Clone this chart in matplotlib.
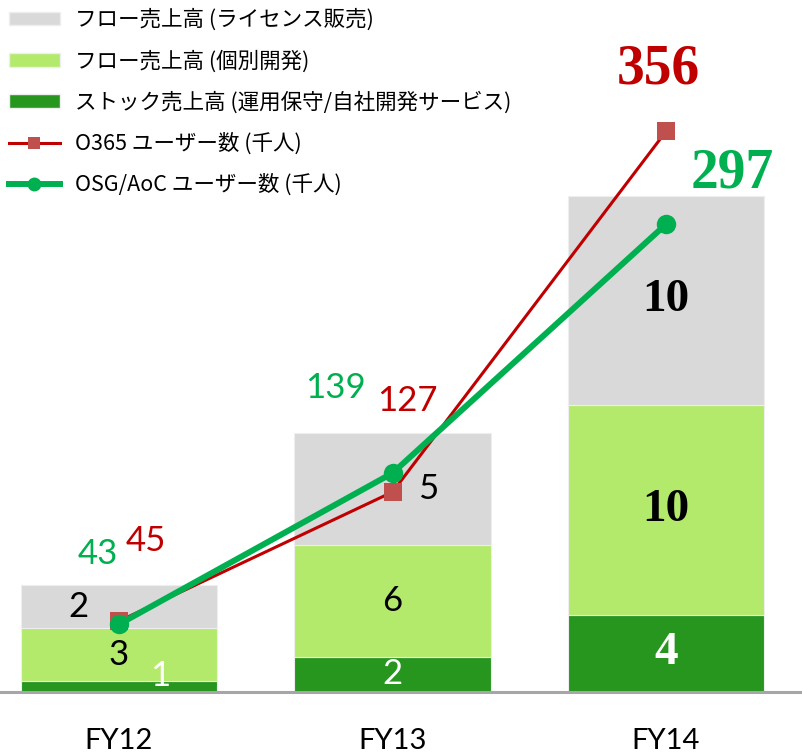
import matplotlib
matplotlib.use("Agg")
from matplotlib import pyplot as plt
from matplotlib.patches import Patch
from matplotlib.lines import Line2D
import numpy as np

# データ
years = ["FY12", "FY13", "FY14"]
flow_license = [2.05, 5.33, 9.95]   # フロー売上高 (ライセンス販売)
flow_dev = [2.52, 5.33, 10.0]       # フロー売上高 (個別開発)
stock = [0.52, 1.67, 3.67]          # ストック売上高
license_labels = ["2", "5", "10"]
dev_labels = ["3", "6", "10"]
stock_labels = ["1", "2", "4"]
o365_users = [45, 127, 356]
osg_users = [43, 139, 297]

c_lic = "#D9D9D9"
c_dev = "#B3EA6B"
c_stock = "#26961F"
c_red = "#C00000"
c_red_mk = "#C0504D"
c_green = "#00B050"

plt.rcParams['font.family'] = ['Noto Sans CJK JP', 'DejaVu Sans']
thin = "Lato"
serif = "Liberation Serif"

fig = plt.figure(figsize=(8.02, 7.53), dpi=100)
ax = fig.add_axes([0, 61 / 753, 1, 692 / 753])
x = np.arange(len(years))
w = 0.717

ax.bar(x, stock, w, color=c_stock, edgecolor="#EEEEEE", linewidth=0.8)
ax.bar(x, flow_dev, w, bottom=stock, color=c_dev, edgecolor="#EEEEEE", linewidth=0.8)
bottom2 = np.array(stock) + np.array(flow_dev)
ax.bar(x, flow_license, w, bottom=bottom2, color=c_lic, edgecolor="#EEEEEE", linewidth=0.8)

ax.set_xlim(-0.435, 2.497)
ax.set_ylim(0, 692 / 21)
ax.set_yticks([])
for s in ["top", "left", "right"]:
    ax.spines[s].set_visible(False)
ax.spines["bottom"].set_color("#A6A6A6")
ax.spines["bottom"].set_linewidth(2.2)
ax.set_xticks(x)
ax.set_xticklabels(years, fontsize=21, family=thin)
ax.tick_params(axis="x", length=0, pad=26)

# 棒ラベル
dx_lic = [-0.15, 0.13, 0]
dx_stock = [0.15, 0, 0]
for i in range(len(years)):
    serif_bar = (i == 2)
    fam = serif if serif_bar else thin
    fw = "bold" if serif_bar else "normal"
    fs = 34 if serif_bar else 25
    ax.text(x[i] + dx_stock[i], stock[i] / 2 + (0.5 if i == 0 else 0), stock_labels[i],
            ha="center", va="center", color="white", fontsize=fs, family=fam, fontweight=fw, zorder=5)
    ax.text(x[i], stock[i] + flow_dev[i] / 2, dev_labels[i],
            ha="center", va="center", color="black", fontsize=fs, family=fam, fontweight=fw, zorder=5)
    ax.text(x[i] + dx_lic[i], bottom2[i] + flow_license[i] / 2, license_labels[i],
            ha="center", va="center", color="black", fontsize=fs, family=fam, fontweight=fw, zorder=5)

ax2 = ax.twinx()
ax2.set_ylim(0, 692 / 1.575)
ax2.set_yticks([])
for s in ax2.spines.values():
    s.set_visible(False)

ax2.plot(x, o365_users, color=c_red, lw=2.2, marker="s", markersize=13,
         markerfacecolor=c_red_mk, markeredgewidth=0, zorder=3)
ax2.plot(x, osg_users, color=c_green, lw=4.3, marker="o", markersize=14,
         markerfacecolor=c_green, markeredgewidth=0, zorder=4)

# 線ラベル
red_off = [(27, 80), (15, 91), (-8, 62)]
green_off = [(-21, 70), (-57, 85), (66, 51)]
for i in range(len(years)):
    big = (i == 2)
    fam = serif if big else thin
    fw = "bold" if big else "normal"
    fs = 40 if big else 25
    ax2.annotate(str(o365_users[i]), (x[i], o365_users[i]), xytext=red_off[i],
                 textcoords="offset pixels", ha="center", va="center",
                 color=c_red, fontsize=fs, family=fam, fontweight=fw)
    ax2.annotate(str(osg_users[i]), (x[i], osg_users[i]), xytext=green_off[i],
                 textcoords="offset pixels", ha="center", va="center",
                 color=c_green, fontsize=fs, family=fam, fontweight=fw)

handles = [
    Patch(facecolor=c_lic, edgecolor="#EEEEEE"),
    Patch(facecolor=c_dev, edgecolor="#EEEEEE"),
    Patch(facecolor=c_stock, edgecolor="#EEEEEE"),
    Line2D([], [], color=c_red, lw=2.2, marker="s", markersize=9,
           markerfacecolor=c_red_mk, markeredgewidth=0),
    Line2D([], [], color=c_green, lw=4.3, marker="o", markersize=10,
           markerfacecolor=c_green, markeredgewidth=0),
]
labels = ["フロー売上高 (ライセンス販売)", "フロー売上高 (個別開発)",
          "ストック売上高 (運用保守/自社開発サービス)",
          "O365 ユーザー数 (千人)", "OSG/AoC ユーザー数 (千人)"]
leg = fig.legend(handles, labels, loc="upper left", bbox_to_anchor=(0.0, 1.0),
                 frameon=False, fontsize=15.5, handlelength=2.4, handleheight=0.6,
                 handletextpad=0.7, labelspacing=0.88, borderaxespad=0.0,
                 borderpad=0.4)

fig.savefig("out.png", dpi=100)
